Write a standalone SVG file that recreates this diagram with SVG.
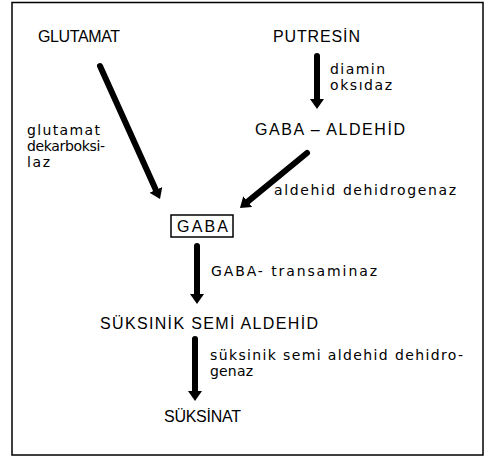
<svg xmlns="http://www.w3.org/2000/svg" width="489" height="458" viewBox="0 0 489 458">
  <style>
    text { font-family: "Liberation Sans", Arial, sans-serif; fill: #000; }
    .head { font-size: 16px; }
    .lbl { font-family: "DejaVu Sans", "Liberation Sans", sans-serif; font-size: 14px; }
    .arrow { stroke: #000; stroke-width: 6; fill: none; stroke-linecap: round; marker-end: url(#head); }
  </style>
  <defs>
    <marker id="head" markerUnits="userSpaceOnUse" viewBox="0 -7 10 14" markerWidth="10" markerHeight="14" refX="0" refY="0" orient="auto">
      <path d="M0,-7 L10,0 L0,7 Z" fill="#000"/>
    </marker>
  </defs>

  <!-- outer frame -->
  <rect x="12" y="2.5" width="471" height="452.5" fill="#fff" stroke="#000" stroke-width="1.5"/>

  <!-- connectors -->
  <g id="connectors">
    <line class="arrow" x1="100" y1="66" x2="155.9" y2="189.9"/>
    <line class="arrow" x1="317" y1="56" x2="317" y2="99"/>
    <line class="arrow" x1="307" y1="153" x2="247.7" y2="201.6"/>
    <line class="arrow" x1="197" y1="246" x2="197" y2="294"/>
    <line class="arrow" x1="195" y1="339" x2="195" y2="391"/>
  </g>

  <!-- enzyme labels -->
  <g id="labels">
    <text class="lbl" x="330" y="74" font-size="13" textLength="55" lengthAdjust="spacing">diamin</text>
    <text class="lbl" x="330" y="90" font-size="13" textLength="62" lengthAdjust="spacing">oksıdaz</text>
    <text class="lbl" x="27" y="135" textLength="73" lengthAdjust="spacing">glutamat</text>
    <text class="lbl" x="27" y="151" textLength="78" lengthAdjust="spacing">dekarboksi-</text>
    <text class="lbl" x="27" y="167" textLength="23" lengthAdjust="spacing">laz</text>
    <text class="lbl" x="274" y="195" textLength="182" lengthAdjust="spacing">aldehid  dehidrogenaz</text>
    <text class="lbl" x="211" y="276" textLength="166" lengthAdjust="spacing">GABA- transaminaz</text>
    <text class="lbl" x="210" y="360" font-size="13" textLength="253" lengthAdjust="spacing">süksinik  semi aldehid dehidro-</text>
    <text class="lbl" x="210" y="376" font-size="13" textLength="43" lengthAdjust="spacing">genaz</text>
  </g>

  <!-- compounds -->
  <g id="glutamat">
    <text class="head" x="38" y="42" textLength="82" lengthAdjust="spacing">GLUTAMAT</text>
  </g>
  <g id="putresin">
    <text class="head" x="273" y="42" textLength="87" lengthAdjust="spacing">PUTRESİN</text>
  </g>
  <g id="gaba-aldehid">
    <text class="head" x="255" y="135" textLength="150" lengthAdjust="spacing">GABA – ALDEHİD</text>
  </g>
  <g id="gaba">
    <rect x="171" y="215" width="62" height="22" fill="none" stroke="#000" stroke-width="1.5"/>
    <text x="177" y="232" font-size="16" textLength="51" lengthAdjust="spacing">GABA</text>
  </g>
  <g id="suksinik-semi-aldehid">
    <text class="head" x="100" y="329" textLength="218" lengthAdjust="spacing">SÜKSINİK SEMİ ALDEHİD</text>
  </g>
  <g id="suksinat">
    <text class="head" x="164" y="422" textLength="77" lengthAdjust="spacing">SÜKSİNAT</text>
  </g>
</svg>
